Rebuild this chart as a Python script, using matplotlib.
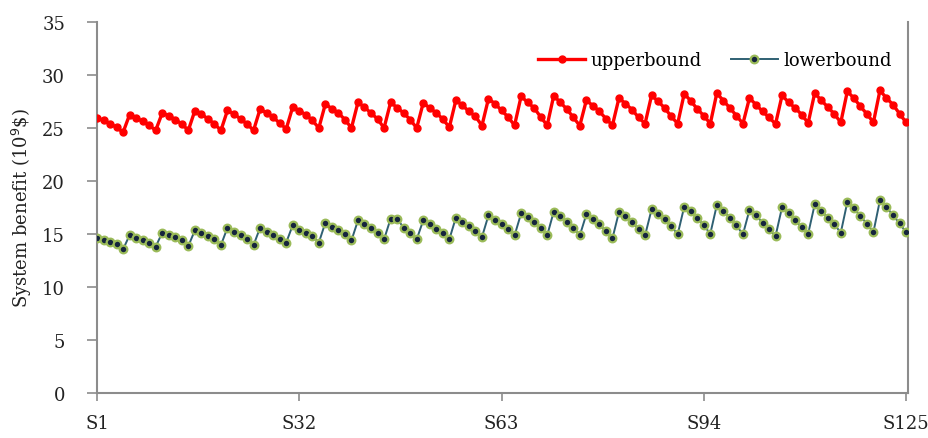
import numpy as np
import matplotlib
matplotlib.use("Agg")
import matplotlib.pyplot as plt

plt.rcParams['font.family'] = ['DejaVu Serif', 'Liberation Serif']

upper = [
    25.93, 25.71, 25.40, 25.05, 24.58,
    26.25, 25.93, 25.62, 25.24, 24.77,
    26.40, 26.15, 25.78, 25.37, 24.77,
    26.62, 26.31, 25.84, 25.37, 24.77,
    26.65, 26.31, 25.84, 25.37, 24.77,
    26.78, 26.40, 25.99, 25.46, 24.90,
    26.97, 26.62, 26.25, 25.71, 24.99,
    27.25, 26.81, 26.40, 25.78, 24.99,
    27.41, 26.94, 26.40, 25.84, 24.99,
    27.41, 26.91, 26.40, 25.78, 24.99,
    27.35, 26.88, 26.40, 25.84, 25.05,
    27.60, 27.13, 26.56, 26.09, 25.21,
    27.75, 27.28, 26.65, 26.03, 25.24,
    27.97, 27.41, 26.88, 26.03, 25.24,
    28.03, 27.41, 26.78, 25.99, 25.21,
    27.60, 27.09, 26.56, 25.87, 25.24,
    27.81, 27.28, 26.72, 25.99, 25.40,
    28.07, 27.50, 26.88, 26.09, 25.40,
    28.22, 27.55, 26.78, 26.15, 25.40,
    28.28, 27.56, 26.88, 26.15, 25.40,
    27.81, 27.19, 26.56, 25.99, 25.37,
    28.07, 27.41, 26.88, 26.25, 25.46,
    28.28, 27.60, 26.97, 26.31, 25.52,
    28.44, 27.81, 27.03, 26.31, 25.52,
    28.53, 27.81, 27.19, 26.34, 25.52,
]

lower = [
    14.65, 14.42, 14.23, 14.02, 13.55,
    14.89, 14.65, 14.42, 14.18, 13.80,
    15.12, 14.89, 14.70, 14.39, 13.86,
    15.33, 15.12, 14.80, 14.49, 13.95,
    15.59, 15.21, 14.89, 14.49, 13.95,
    15.59, 15.17, 14.89, 14.55, 14.18,
    15.83, 15.36, 15.12, 14.80, 14.18,
    16.06, 15.65, 15.36, 15.02, 14.39,
    16.27, 15.90, 15.52, 15.05, 14.49,
    16.43, 16.43, 15.59, 15.05, 14.49,
    16.27, 15.90, 15.49, 15.05, 14.49,
    16.53, 16.12, 15.74, 15.27, 14.70,
    16.75, 16.30, 15.96, 15.49, 14.86,
    16.93, 16.59, 16.12, 15.59, 14.86,
    17.09, 16.68, 16.12, 15.59, 14.86,
    16.84, 16.43, 15.90, 15.27, 14.58,
    17.06, 16.68, 16.12, 15.49, 14.86,
    17.31, 16.90, 16.37, 15.74, 14.96,
    17.56, 17.12, 16.53, 15.80, 15.02,
    17.72, 17.15, 16.53, 15.80, 14.96,
    17.25, 16.75, 16.06, 15.43, 14.80,
    17.53, 16.93, 16.27, 15.65, 15.02,
    17.78, 17.15, 16.53, 15.90, 15.12,
    18.00, 17.40, 16.68, 15.96, 15.17,
    18.18, 17.53, 16.75, 15.99, 15.17,
]

scenarios = np.arange(1, len(upper) + 1)
tick_pos = [1, 32, 63, 94, 125]
tick_labels = ['S1', 'S32', 'S63', 'S94', 'S125']

fig = plt.figure(figsize=(9.29, 4.39), dpi=100)
ax = fig.add_axes([0.1044, 0.1025, 0.8730, 0.8455])

ax.plot(scenarios, upper, color='#ff0000', lw=2.4, marker='o', ms=5,
        mfc='#ff0000', mec='#ff0000', label='upperbound', zorder=3)
ax.plot(scenarios, lower, color='#2f6073', lw=1.4, marker='o', ms=5.5,
        mfc='#15243d', mec='#9bbb59', mew=1.6, label='lowerbound', zorder=3)

ax.set_xlim(1, 125.3)
ax.set_ylim(0, 35)
ax.set_yticks(range(0, 36, 5))
ax.set_xticks(tick_pos)
ax.set_xticklabels(tick_labels)

for side in ['left', 'bottom', 'right']:
    ax.spines[side].set_color('#8c8c8c')
    ax.spines[side].set_linewidth(1.5)
ax.spines['top'].set_visible(False)
ax.tick_params(axis='both', colors='#8c8c8c', labelcolor='#222222',
               labelsize=13, width=1.2)
ax.tick_params(axis='y', length=7, pad=16)
ax.tick_params(axis='x', length=6, pad=9)

ax.set_ylabel('System benefit (10$^9$\\$)', fontsize=13, color='#222222',
              labelpad=6)

ax.legend(loc='upper right', frameon=False, fontsize=13, ncol=2,
          bbox_to_anchor=(1.0, 0.965), handlelength=2.6, columnspacing=1.6,
          handletextpad=0.3)

fig.savefig('out.png', dpi=100)
